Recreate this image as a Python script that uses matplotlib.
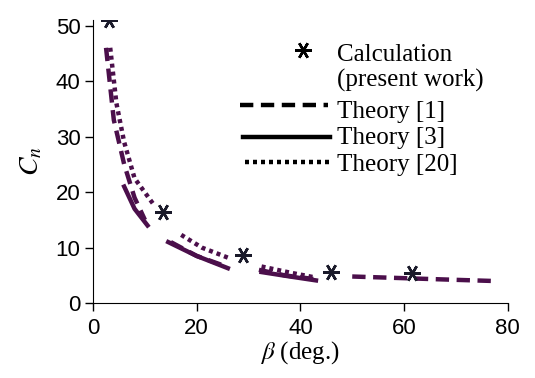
import numpy as np
import matplotlib
matplotlib.use("Agg")
import matplotlib.pyplot as plt

nan = np.nan

# Calculation (present work)
beta_calc = [3.0, 13.5, 29.0, 46.0, 61.5]
cn_calc = [51.0, 16.5, 8.6, 5.6, 5.4]

# Theory [1] (dashed), NaN separates segments
beta_t1 = [2.5, 4.0, 6.0, 8.0, 10.0, nan, 15.0, 20.0, 26.0, nan, 32.0, 37.0, 43.0, nan, 50.0, 60.0, 70.0, 77.0]
cn_t1 = [46.0, 33.0, 25.0, 19.0, 15.0, nan, 11.0, 8.5, 6.5, nan, 6.0, 5.0, 4.3, nan, 4.8, 4.5, 4.2, 4.0]

# Theory [3] (solid)
beta_t3 = [6.0, 8.0, 10.5, nan, 14.5, 20.0, 26.0, nan, 32.5, 38.0, 43.0]
cn_t3 = [21.0, 17.0, 14.0, nan, 11.0, 8.5, 6.3, nan, 5.6, 4.8, 4.1]

# Theory [20] (dotted)
beta_t20 = [3.3, 4.5, 6.0, 8.0, 11.5, nan, 17.0, 21.0, 26.0, nan, 32.5, 38.0, 43.0]
cn_t20 = [46.0, 36.0, 29.0, 22.5, 18.0, nan, 12.3, 10.0, 8.2, nan, 6.6, 5.5, 4.6]

labels = ["Calculation", "(present work)", "Theory [1]", "Theory [3]", "Theory [20]"]

curve_col = "#4b0f4b"
serif = "Liberation Serif"
plt.rcParams["mathtext.fontset"] = "stix"
plt.rcParams["font.family"] = "Liberation Sans"

fig = plt.figure(figsize=(5.35, 3.78), dpi=100)
ax = fig.add_axes([0.174, 0.198, 0.775, 0.749])

ax.plot(beta_t1, cn_t1, color=curve_col, lw=3.2, dashes=(3.0, 1.7))
ax.plot(beta_t3, cn_t3, color=curve_col, lw=3.2)
ax.plot(beta_t20, cn_t20, color=curve_col, lw=3.2, dashes=(0.9, 0.9))
ax.plot(beta_calc, cn_calc, ls="none", marker=(6, 2, 90), ms=12, mew=1.8, color="#1a1a2a")

ax.set_xlim(0, 80)
ax.set_ylim(0, 51)
ax.set_xticks([0, 20, 40, 60, 80])
ax.set_yticks([0, 10, 20, 30, 40, 50])
ax.spines["top"].set_visible(False)
ax.spines["right"].set_visible(False)
ax.tick_params(direction="out", length=6, width=1, labelsize=16)
ax.tick_params(axis="x", pad=5)
ax.tick_params(axis="y", pad=3)
ax.set_xlabel(r"$\beta$ (deg.)", fontsize=18, family=serif, labelpad=0)
ax.set_ylabel(r"$C_n$", fontsize=20, family=serif, labelpad=8)

# legend drawn by hand, in axes fraction
lx0, lx1, tx = 0.354, 0.566, 0.588
tr = ax.transAxes
ax.plot([0.506], [0.894], transform=tr, ls="none", marker=(6, 2, 90),
        ms=12, mew=1.8, color="black", clip_on=False)
ax.text(tx, 0.876, labels[0], transform=tr, fontsize=18, family=serif, va="center")
ax.text(tx, 0.788, labels[1], transform=tr, fontsize=18, family=serif, va="center")
ax.plot([lx0, lx1], [0.70, 0.70], transform=tr, color="black", lw=3.2, dashes=(3.0, 1.7))
ax.text(tx, 0.675, labels[2], transform=tr, fontsize=18, family=serif, va="center")
ax.plot([lx0 + 0.008, lx1 + 0.005], [0.587, 0.587], transform=tr, color="black", lw=3.2)
ax.text(tx, 0.583, labels[3], transform=tr, fontsize=18, family=serif, va="center")
ax.plot([lx0 + 0.012, lx1 + 0.005], [0.498, 0.498], transform=tr, color="black", lw=3.2, dashes=(0.9, 0.9))
ax.text(tx, 0.488, labels[4], transform=tr, fontsize=18, family=serif, va="center")

fig.savefig("out.png", dpi=100)
